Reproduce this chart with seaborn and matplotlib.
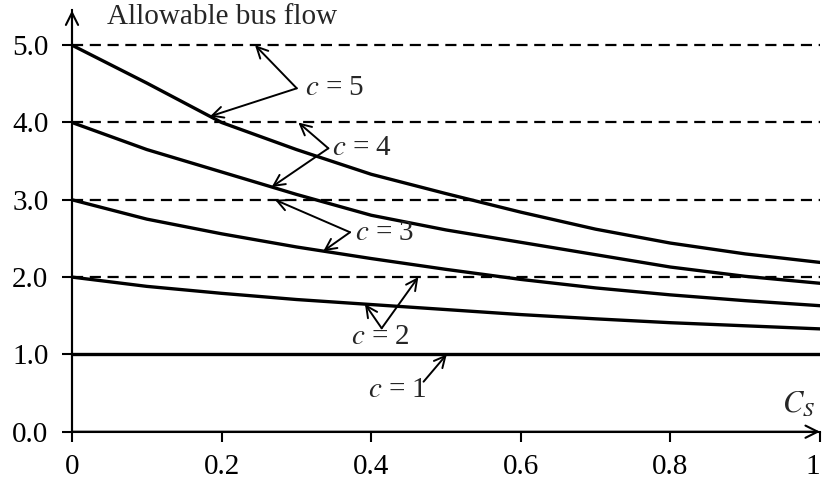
import numpy as np
import pandas as pd
import matplotlib
matplotlib.use("Agg")
import matplotlib.pyplot as plt
import seaborn as sns

# Coefficient of variation of service time
cs = [0.0, 0.1, 0.2, 0.3, 0.4, 0.5, 0.6, 0.7, 0.8, 0.9, 1.0]

# Allowable bus flow for c = 1..5 loading positions
flow_c1 = [1.0, 1.0, 1.0, 1.0, 1.0, 1.0, 1.0, 1.0, 1.0, 1.0, 1.0]
flow_c2 = [2.0, 1.88, 1.79, 1.71, 1.645, 1.58, 1.515, 1.46, 1.41, 1.37, 1.33]
flow_c3 = [3.0, 2.75, 2.56, 2.39, 2.24, 2.10, 1.97, 1.86, 1.77, 1.695, 1.63]
flow_c4 = [4.0, 3.65, 3.36, 3.07, 2.80, 2.61, 2.45, 2.29, 2.13, 2.01, 1.92]
flow_c5 = [5.0, 4.51, 4.00, 3.65, 3.33, 3.08, 2.84, 2.62, 2.44, 2.30, 2.19]

# Upper bounds (deterministic service) drawn as dashed references
dashed_levels = [2.0, 3.0, 4.0, 5.0]

x_ticks = [0, 0.2, 0.4, 0.6, 0.8, 1.0]
x_tick_labels = ["0", "0.2", "0.4", "0.6", "0.8", "1"]
y_ticks = [0, 1, 2, 3, 4, 5]
y_tick_labels = ["0.0", "1.0", "2.0", "3.0", "4.0", "5.0"]

series = {1: flow_c1, 2: flow_c2, 3: flow_c3, 4: flow_c4, 5: flow_c5}
df = pd.concat(
    [pd.DataFrame({"Cs": cs, "flow": v, "c": k}) for k, v in series.items()],
    ignore_index=True,
)

sns.set_theme(style="white")
plt.rcParams["font.family"] = ["Liberation Serif", "DejaVu Serif"]
plt.rcParams["mathtext.fontset"] = "stix"

fig = plt.figure(figsize=(8.23, 4.84), dpi=100)
ax = fig.add_axes([72 / 823, 52.3 / 484, 748 / 823, 421.3 / 484])

ax.hlines(dashed_levels, 0, 1, colors="black", linewidth=1.6,
          linestyles=(0, (5, 3)), zorder=1)

sns.lineplot(data=df, x="Cs", y="flow", hue="c",
             palette={k: "black" for k in series}, linewidth=2.4,
             legend=False, ax=ax, zorder=3)

ax.set_xlim(0, 1)
ax.set_ylim(0, 5.45)
ax.set_xticks(x_ticks)
ax.set_xticklabels(x_tick_labels)
ax.set_yticks(y_ticks)
ax.set_yticklabels(y_tick_labels)
ax.set_xlabel("")
ax.set_ylabel("")
ax.tick_params(direction="out", length=7, width=1.5, labelsize=21,
               colors="black", bottom=True, left=True)
ax.tick_params(axis="y", pad=10)
ax.tick_params(axis="x", pad=9)
# keep the last x label inside the canvas
ax.get_xticklabels()[-1].set_horizontalalignment("right")

for side in ("top", "right"):
    ax.spines[side].set_visible(False)
for side in ("left", "bottom"):
    ax.spines[side].set_color("black")
    ax.spines[side].set_linewidth(1.5)

axis_arrow = dict(arrowstyle="->", color="black", lw=1.5,
                  mutation_scale=22, shrinkA=0, shrinkB=0)
ax.annotate("", xy=(0, 1), xytext=(0, 0), xycoords="axes fraction",
            arrowprops=axis_arrow, annotation_clip=False)
ax.annotate("", xy=(1, 0), xytext=(0, 0), xycoords="axes fraction",
            arrowprops=axis_arrow, annotation_clip=False)

ax.text(0.047, 5.37, "Allowable bus flow", fontsize=21, ha="left",
        va="center")
ax.text(0.972, 0.36, r"$C_S$", fontsize=22, ha="center", va="center")

# Curve labels: text position, arrow origin, and arrow targets
# (target is either a curve index or a dashed level)
labels = [
    ("$c$ = 5", (0.3115, 4.445), "left", (0.3005, 4.442),
     [(0.2447, ("level", 5.0)), (0.1845, ("curve", 5))]),
    ("$c$ = 4", (0.3476, 3.67), "left", (0.3427, 3.666),
     [(0.3026, ("level", 4.0)), (0.267, ("curve", 4))]),
    ("$c$ = 3", (0.378, 2.57), "left", (0.3717, 2.58),
     [(0.2714, ("level", 3.0)), (0.336, ("curve", 3))]),
    ("$c$ = 2", (0.4124, 1.229), "center", (0.414, 1.338),
     [(0.3917, ("curve", 2)), (0.463, ("level", 2.0))]),
    ("$c$ = 1", (0.435, 0.54), "center", (0.47, 0.647),
     [(0.501, ("curve", 1))]),
]

pointer = dict(arrowstyle="->", color="black", lw=1.4,
               mutation_scale=20, shrinkA=0, shrinkB=0)
for text, tpos, ha, origin, targets in labels:
    ax.text(tpos[0], tpos[1], text, fontsize=21, ha=ha, va="center",
            zorder=5)
    for tx, (kind, ref) in targets:
        ty = ref if kind == "level" else float(np.interp(tx, cs, series[ref]))
        ax.annotate("", xy=(tx, ty), xytext=origin, arrowprops=pointer,
                    zorder=4)

fig.savefig("out.png", dpi=100, facecolor="white")
